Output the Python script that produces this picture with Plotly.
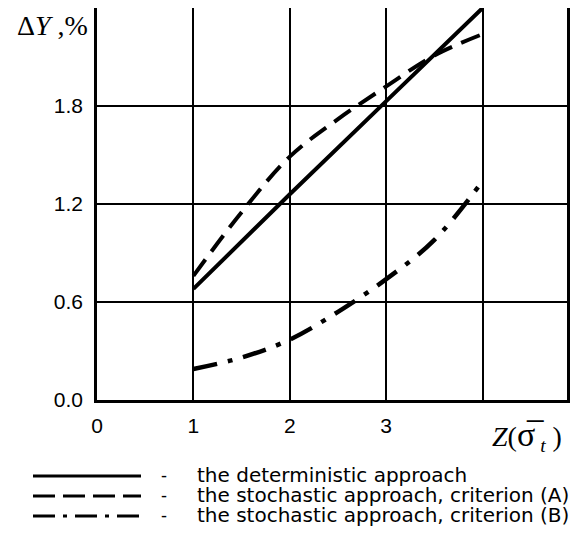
import plotly.graph_objects as go

# ---- data ----
z_det = [1, 2, 3, 4]
dy_det = [0.68, 1.26, 1.83, 2.40]

z_stA = [1, 1.5, 2, 2.5, 3, 3.5, 4]
dy_stA = [0.76, 1.15, 1.49, 1.72, 1.92, 2.11, 2.24]

z_stB = [1, 1.5, 2, 2.5, 3, 3.5, 4]
dy_stB = [0.19, 0.26, 0.37, 0.54, 0.74, 0.98, 1.34]

x_ticks = [0, 1, 2, 3, 4]
x_tick_labels = ["0", "1", "2", "3", ""]
y_ticks = [0, 0.6, 1.2, 1.8, 2.4]
y_tick_labels = ["0.0", "0.6", "1.2", "1.8", ""]

legend_labels = [
    "the deterministic approach",
    "the stochastic approach, criterion (A)",
    "the stochastic approach, criterion (B)",
]

DASH_A = "20px,10px"
DASH_B = "24px,11px,5px,11px"
LEG_DASH_A = "22px,8px"
LEG_DASH_B = "22px,8px,4px,8px"

OFF = 8  # the page body adds an 8px margin; compensate so pixels match the window
WIN_W, WIN_H = 582, 544
W, H = WIN_W - OFF, WIN_H - 2 * OFF
# plot-area box in window pixels (left, right, top, bottom)
PL, PR, PT, PB = 97, 567, 8, 400
UNIT = 96.4  # pixels per x unit in the reference
X_MAX = (PR - PL) / UNIT


def px(x):
    return min(max((x - OFF) / W, 0), 1)


def py(y):
    return min(max(1 - (y - OFF) / H, 0), 1)


fig = go.Figure()
fig.add_trace(go.Scatter(x=z_det, y=dy_det, mode="lines",
                         line=dict(color="black", width=4), showlegend=False))
fig.add_trace(go.Scatter(x=z_stA, y=dy_stA, mode="lines",
                         line=dict(color="black", width=4, dash=DASH_A, shape="spline"),
                         showlegend=False))
fig.add_trace(go.Scatter(x=z_stB, y=dy_stB, mode="lines",
                         line=dict(color="black", width=4.5, dash=DASH_B, shape="spline"),
                         showlegend=False))

axis_common = dict(showgrid=True, gridcolor="black", gridwidth=2,
                   showline=True, linecolor="black", linewidth=2.5, mirror=True,
                   zeroline=False, ticks="", automargin=False,
                   tickfont=dict(family="Liberation Sans", size=21, color="black"))

fig.update_xaxes(range=[0, X_MAX], tickvals=x_ticks, ticktext=x_tick_labels,
                 domain=[px(PL), px(PR)], ticklabelstandoff=5, **axis_common)
fig.update_yaxes(range=[0, 2.4], tickvals=y_ticks, ticktext=y_tick_labels,
                 domain=[py(PB), py(PT)], ticklabelstandoff=7, **axis_common)

annotations = [
    dict(text="Δ<i>Y</i> ,%", x=px(52), y=py(26),
         font=dict(family="Liberation Serif", size=28, color="black")),
    dict(text="<i>Z</i>(<span style='font-size:34px'>σ̅</span><sub> <i>t</i></sub> )",
         x=px(527), y=py(436),
         font=dict(family="Liberation Serif", size=28, color="black")),
]

row_y = [475, 495, 515]
dashes = ["solid", LEG_DASH_A, LEG_DASH_B]
shapes = []
for yy, d, lab in zip(row_y, dashes, legend_labels):
    shapes.append(dict(type="line", xref="paper", yref="paper",
                       x0=px(33), x1=px(141), y0=py(yy + 1), y1=py(yy + 1),
                       line=dict(color="black", width=3, dash=d)))
    annotations.append(dict(text="-", x=px(164), y=py(yy + 1),
                            font=dict(family="Liberation Sans", size=18, color="black")))
    annotations.append(dict(text=lab, x=px(195), y=py(yy), xanchor="left",
                            font=dict(family="DejaVu Sans", size=20, color="black")))

for a in annotations:
    a.setdefault("xanchor", "center")
    a.update(xref="paper", yref="paper", showarrow=False, yanchor="middle")

fig.update_layout(width=W, height=H, margin=dict(l=0, r=0, t=0, b=0, autoexpand=False),
                  plot_bgcolor="white", paper_bgcolor="white",
                  annotations=annotations, shapes=shapes)

fig.write_html("out.html")
